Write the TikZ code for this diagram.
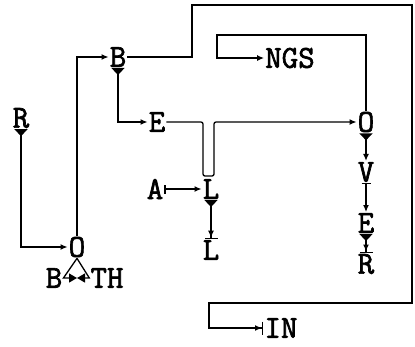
\documentclass[tikz,border=0pt]{standalone}
\usepackage{fontspec}
\newfontfamily\typer[FakeBold=2]{Latin Modern Mono}
\usetikzlibrary{arrows.meta}

\begin{document}
\begin{tikzpicture}[
    x=1pt, y=-1pt,
    ltr/.style={font=\fontsize{32}{32}\selectfont\typer, inner sep=1pt},
    wire/.style={line width=1.3pt, black},
    ahd/.tip={Latex[length=7pt,width=6pt]},
    ahdbar/.tip={Latex[length=7pt,width=6pt] Bar[width=13pt]},
    bow/.tip={Triangle[length=8pt,width=9pt]},
    tl/.tip={Triangle[reversed,length=7pt,width=13pt]},
    br/.tip={Bar[width=9pt]},
]
\useasboundingbox (0,0) rectangle (415,346);

% Letters, left part
\node[ltr] (r)   at (21,118)  {R};
\node[ltr] (b)   at (118,57)  {B};
\node[ltr] (e)   at (157,122) {E};
\node[ltr] (a)   at (155,189) {A};
\node[ltr] (la)  at (211,189) {L};
\node[ltr] (lb)  at (211,250) {L};
\node[ltr] (ob)  at (77,247)  {O};
\node[ltr] (bb)  at (54,278)  {B};
\node[ltr] (th)  at (107,278) {TH};

% Letters, right part
\node[ltr] (ngs) at (290,58)  {NGS};
\node[ltr] (ot)  at (366,122) {O};
\node[ltr] (v)   at (366,172) {V};
\node[ltr] (ee)  at (366,223) {E};
\node[ltr] (rr)  at (366,264) {R};
\node[ltr] (in)  at (281,328) {IN};

% Corners of the lines
\coordinate (frametl) at (192,5);
\coordinate (framebr) at (412,303);
\coordinate (framebl) at (209,328);
\coordinate (loop)    at (217,35);
\coordinate (dipl)    at (203,176);
\coordinate (dipr)    at (214,176);
\coordinate (gap)     at (ob.south |- bb.east);

% R round to O, up to B, down to E
\draw[wire, tl-ahd] (r.south) |- (ob.west);
\draw[wire, -ahd] (ob.north) |- (b.west);
\draw[wire, tl-ahd] (b.south) |- (e.west);

% B round the frame to IN
\draw[wire, -ahdbar]
    (b.east) -| (frametl) -| (framebr) -| (framebl) -- (in.west);

% E dips to L, then on to O
\draw[wire, -ahd, rounded corners=2pt]
    (e.east) -| (dipl) -- (dipr) |- (ot.west);

% A into L, L down to L
\draw[wire, br-ahd] (a.east) -- (la.west);
\draw[wire, tl-ahdbar] (la.south) -- (lb.north);

% O back to NGS
\draw[wire, -ahd] (ot.north) |- (loop) |- (ngs.west);

% O V E R column
\draw[wire, tl-ahd] (ot.south) -- (v.north);
\draw[wire, br-ahd] (v.south) -- (ee.north);
\draw[wire, tl-ahdbar] (ee.south) -- (rr.north);

% O between B and TH
\draw[wire, -bow] (ob.south) -- (bb.east) -- (gap);
\draw[wire, -bow] (ob.south) -- (th.west) -- (gap);

\end{tikzpicture}
\end{document}
